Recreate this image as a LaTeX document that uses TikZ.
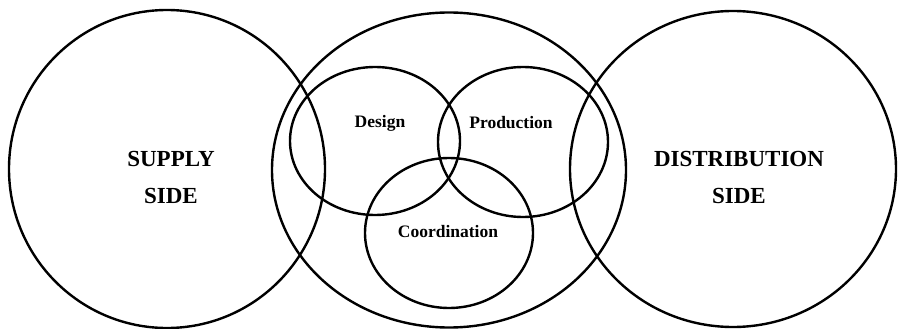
\documentclass[tikz,border=0pt]{standalone}
\usepackage{fontspec}
\setmainfont{Liberation Serif}
\usetikzlibrary{shapes.geometric}
\begin{document}
\begin{tikzpicture}[x=1pt,y=-1pt,
  ring/.style={draw=black, line width=2.4pt, ellipse, inner sep=0pt, outer sep=0pt},
  bigtxt/.style={font=\bfseries\fontsize{23}{37}\selectfont, align=center, text=black},
  smalltxt/.style={font=\bfseries\fontsize{17.5}{20}\selectfont, text=black}]
\useasboundingbox[fill=white] (0,0) rectangle (898,329);
% large circles
\node[ring, minimum width=316pt, minimum height=318pt] (supply) at (167,169) {};
\node[ring, minimum width=354pt, minimum height=315pt] (mid) at (449,170) {};
\node[ring, minimum width=326pt, minimum height=316pt] (dist) at (733,169) {};
% inner circles
\node[ring, minimum width=170pt, minimum height=148pt] (design) at (375,141) {};
\node[ring, minimum width=170pt, minimum height=150pt] (prod) at (523,142) {};
\node[ring, minimum width=168pt, minimum height=150pt] (coord) at (449,233) {};
% labels
\node[bigtxt] (supplylbl) at (171,177) {SUPPLY\\SIDE};
\node[bigtxt] (distlbl) at (739,177) {DISTRIBUTION\\SIDE};
\node[smalltxt] (designlbl) at (380,123) {Design};
\node[smalltxt] (prodlbl) at (511,123) {Production};
\node[smalltxt] (coordlbl) at (448,232) {Coordination};
\end{tikzpicture}
\end{document}
